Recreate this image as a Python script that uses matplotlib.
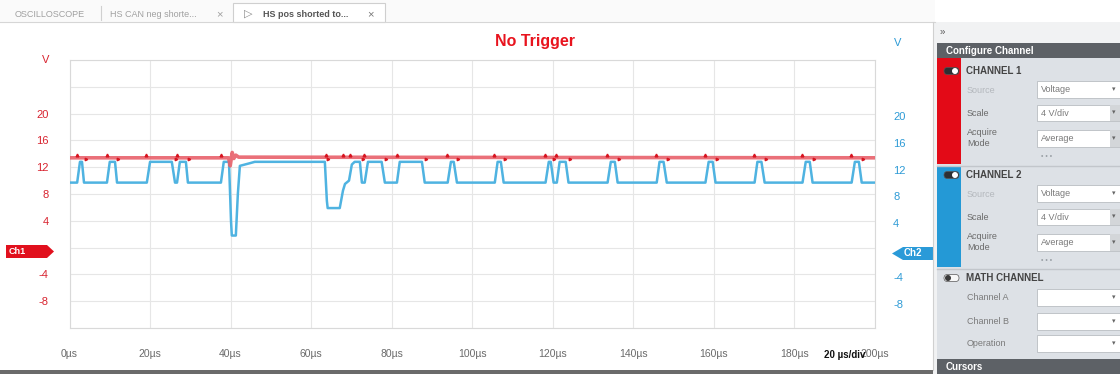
import matplotlib.pyplot as plt
from matplotlib.patches import Rectangle, Polygon, FancyBboxPatch, Circle
from matplotlib.transforms import ScaledTranslation

plt.rcParams['font.family'] = ['Liberation Sans', 'DejaVu Sans']

W, H = 1120, 374

# axis ticks
time_ticks = [0, 20, 40, 60, 80, 100, 120, 140, 160, 180, 200]
time_labels = ['0µs', '20µs', '40µs', '60µs', '80µs', '100µs', '120µs',
               '140µs', '160µs', '180µs', '200µs']
volt_ticks = [-12, -8, -4, 0, 4, 8, 12, 16, 20, 24, 28]
volt_labels = ['', '-8', '-4', '', '4', '8', '12', '16', '20', '', '']

# channel 2 (blue) trace, µs / V
blue_t = [0, 1.9, 2.6, 3.1, 3.6, 9.3, 10.0, 11.3, 11.8, 19.2, 20.0, 25.4, 26.2,
          26.7, 27.4, 28.9, 29.4, 37.6, 38.3, 39.6, 40.1, 40.3, 41.3, 41.8, 42.3,
          44.8, 46.0, 63.4, 63.9, 64.1, 67.1, 67.9, 68.4, 69.4, 70.1, 70.8, 72.1,
          72.6, 73.3, 74.1, 77.5, 78.3, 81.3, 82.0, 87.5, 88.2, 93.9, 94.7, 95.4,
          96.2, 105.6, 106.3, 107.1, 107.8, 118.2, 119.0, 119.5, 120.2, 121.0,
          121.7, 123.2, 123.9, 133.6, 134.4, 135.4, 136.1, 145.8, 146.5, 147.5,
          148.3, 157.9, 158.7, 159.7, 160.4, 170.1, 170.8, 171.8, 172.6, 182.0,
          182.8, 183.8, 184.5, 194.2, 195.0, 196.0, 196.7, 200]
blue_v = [9.7, 9.7, 12.8, 12.8, 9.7, 9.7, 12.8, 12.8, 9.7, 9.7, 12.8, 12.8, 9.7,
          9.7, 12.8, 12.8, 9.7, 9.7, 12.8, 12.8, 4.0, 1.8, 1.8, 8.0, 12.2,
          12.6, 12.8, 12.8, 7.0, 5.9, 5.9, 8.5, 9.5, 10.0, 12.4, 12.8, 12.8,
          9.7, 9.7, 12.8, 12.8, 9.7, 9.7, 12.8, 12.8, 9.7, 9.7, 12.8, 12.8,
          9.7, 9.7, 12.8, 12.8, 9.7, 9.7, 12.8, 12.8, 9.7, 9.7,
          12.8, 12.8, 9.7, 9.7, 12.8, 12.8, 9.7, 9.7, 12.8, 12.8,
          9.7, 9.7, 12.8, 12.8, 9.7, 9.7, 12.8, 12.8, 9.7, 9.7,
          12.8, 12.8, 9.7, 9.7, 12.8, 12.8, 9.7, 9.7]

# channel 1 (red) trace
red_t = [0, 39.5, 39.9, 40.4, 40.8, 41.3, 42.0, 200]
red_v = [13.4, 13.4, 12.2, 14.2, 13.3, 13.8, 13.5, 13.4]
red_rise_t = [1.8, 9.2, 19.1, 26.6, 37.5, 63.6, 67.8, 69.6, 73.2, 81.2, 93.8,
              105.5, 118.1, 120.9, 133.5, 145.7, 157.8, 170.0, 181.9, 194.1]
red_fall_t = [4.0, 12.1, 26.5, 29.7, 64.3, 72.9, 78.6, 88.5, 96.5, 108.1, 120.4,
              124.2, 136.4, 148.6, 160.7, 172.9, 184.8, 197.0]
RED_RISE_V = 13.8
RED_FALL_V = 13.2

fig = plt.figure(figsize=(W / 100, H / 100), dpi=100)
bg = fig.add_axes([0, 0, 1, 1])
bg.set_xlim(0, W)
bg.set_ylim(H, 0)
bg.axis('off')


def rect(x0, y0, x1, y1, color, ec='none', lw=0):
    bg.add_patch(Rectangle((x0, y0), x1 - x0, y1 - y0, facecolor=color,
                           edgecolor=ec, lw=lw))


def txt(x, y, s, **kw):
    kw.setdefault('va', 'center')
    bg.text(x, y, s, **kw)


# window background + tab strip
rect(0, 0, W, H, '#ffffff')
rect(0, 0, 935, 21.5, '#fafafa')
bg.plot([0, 935], [21.5, 21.5], color='#d6d6d6', lw=0.8)
rect(233, 3, 385, 21.5, '#ffffff', ec='#cfcfcf', lw=0.8)
bg.plot([101, 101], [6, 20], color='#d0d0d0', lw=0.8)
txt(15, 14, 'OSCILLOSCOPE', fontsize=6.5, color='#a0a0a0')
txt(110, 14, 'HS CAN neg shorte...', fontsize=6.5, color='#a0a0a0')
txt(216, 14, '×', fontsize=8, color='#a0a0a0')
txt(244, 14, '▷', fontsize=8, color='#8a8a8a')
txt(263, 14, 'HS pos shorted to...', fontsize=6.5, color='#555555',
    fontweight='bold')
txt(367, 14, '×', fontsize=8, color='#777777')
rect(0, 370, 936, H, '#6b6b6b')

txt(535, 41, 'No Trigger', fontsize=11.5, fontweight='bold', color='#e8141e',
    ha='center')
txt(46, 60, 'V', fontsize=8, color='#d8232f', ha='center')
txt(898, 43, 'V', fontsize=8, color='#2e9bd6', ha='center')

# channel markers
bg.add_patch(Polygon([(6, 245), (47, 245), (54, 251.5), (47, 258), (6, 258)],
                     closed=True, facecolor='#e1101d', edgecolor='none'))
txt(9, 251.5, 'Ch1', fontsize=6.5, color='white', fontweight='bold')
bg.add_patch(Polygon([(892, 253.5), (903, 247), (938, 247), (938, 260), (903, 260)],
                     closed=True, facecolor='#2a9ad8', edgecolor='none'))
txt(904, 253.5, 'Ch2', fontsize=7, color='white', fontweight='bold')

# right side panel
rect(933, 22, W, H, '#f1f2f3')
bg.plot([933, 933], [22, 370], color='#d0d0d0', lw=0.8)
txt(940, 32, '»', fontsize=7, color='#555555')
rect(937, 43, W, 58, '#5d6166')
txt(946, 51, 'Configure Channel', fontsize=7, color='white', fontweight='bold')
rect(937, 58, W, 359, '#dde1e6')
rect(937, 58, 961, 164, '#e30a17')
rect(937, 167, 961, 267, '#2499d6')
bg.plot([937, W], [165.5, 165.5], color='#c2c6cb', lw=1.0)
bg.plot([937, W], [268.5, 268.5], color='#c2c6cb', lw=1.0)
rect(937, 359, W, H, '#5d6166')
txt(946, 367, 'Cursors', fontsize=7, color='white', fontweight='bold')


def toggle(y, on):
    face = '#2d2f33' if on else '#f7f7f7'
    bg.add_patch(FancyBboxPatch((944, y - 3.5), 15, 7,
                                boxstyle='round,pad=0,rounding_size=3.5',
                                facecolor=face, edgecolor='#555555', lw=0.5))
    knob = '#ffffff' if on else '#3a3a3a'
    bg.add_patch(Circle((955 if on else 948, y), 3, facecolor=knob,
                        edgecolor='none'))


def dropdown(y0, y1, value='', spinner=False):
    rect(1037, y0, 1121, y1, '#ffffff', ec='#b9bdc2', lw=0.6)
    if spinner:
        rect(1110, y0, 1121, y1, '#d3d6d9')
    if value:
        txt(1041, (y0 + y1) / 2, value, fontsize=6.5, color='#7a7a7a')
    txt(1114, (y0 + y1) / 2, '▾', fontsize=5, color='#666666', ha='center')


for off, name in [(0, 'CHANNEL 1'), (104, 'CHANNEL 2')]:
    toggle(71 + off, True)
    txt(966, 71 + off, name, fontsize=7, color='#444444', fontweight='bold')
    txt(967, 90 + off, 'Source', fontsize=6.5, color='#b4b8bd')
    dropdown(81 + off, 98 + off, 'Voltage')
    txt(967, 113 + off, 'Scale', fontsize=6.5, color='#6a6a6a')
    dropdown(105 + off, 121 + off, '4 V/div', spinner=True)
    txt(967, 132 + off, 'Acquire', fontsize=6.5, color='#6a6a6a')
    txt(967, 143 + off, 'Mode', fontsize=6.5, color='#6a6a6a')
    dropdown(130 + off, 147 + off, 'Average', spinner=True)
    txt(1047, 156.5 + off, '• • •', fontsize=5, color='#9aa0a6', ha='center')

toggle(278, False)
txt(966, 278, 'MATH CHANNEL', fontsize=7, color='#444444', fontweight='bold')
for y, lab in [(298, 'Channel A'), (322, 'Channel B'), (344, 'Operation')]:
    txt(967, y, lab, fontsize=6.5, color='#7a7a7a')
    dropdown(y - 9, y + 8)

# scope plot
ax = fig.add_axes([69.5 / W, 1 - 328 / H, 805.5 / W, 268 / H])
ax.plot(blue_t, blue_v, color='#4fb3e1', lw=1.8, zorder=3,
        solid_joinstyle='round')
ax.plot(red_t, red_v, color='#e8606a', lw=2.6, zorder=4, alpha=0.9)
ax.plot(red_rise_t, [RED_RISE_V] * len(red_rise_t), ls='none', marker='^',
        ms=2.0, color='#d7141f', zorder=5)
ax.plot(red_fall_t, [RED_FALL_V] * len(red_fall_t), ls='none', marker='>',
        ms=1.8, color='#d7141f', zorder=5)
ax.set_xlim(0, 200)
ax.set_ylim(-12, 28)
ax.set_xticks(time_ticks, time_labels)
ax.set_yticks(volt_ticks, volt_labels)
ax.grid(True, color='#e6e6e6', lw=0.8)
ax.set_axisbelow(True)
for s in ax.spines.values():
    s.set_color('#d9d9d9')
    s.set_linewidth(0.8)
ax.tick_params(axis='x', length=0, pad=15, labelsize=7.5, labelcolor='#6a6a6a')
ax.tick_params(axis='y', length=0, pad=15, labelsize=8, labelcolor='#d8232f')

ax2 = ax.twinx()
ax2.set_ylim(-12, 28)
ax2.set_yticks(volt_ticks, volt_labels)
ax2.tick_params(axis='y', length=0, pad=13, labelsize=8, labelcolor='#2e9bd6')
for s in ax2.spines.values():
    s.set_visible(False)
shift = ScaledTranslation(0, -2.5 / 100, fig.dpi_scale_trans)
for lab in ax2.get_yticklabels():
    lab.set_transform(lab.get_transform() + shift)

# scale readout sits over the last time label, as on the instrument
fig.text(845 / W, 1 - 355 / H, '20 µs/div', fontsize=7, fontweight='bold',
         color='#111111', ha='center', va='center')

fig.savefig('out.png', dpi=100)
